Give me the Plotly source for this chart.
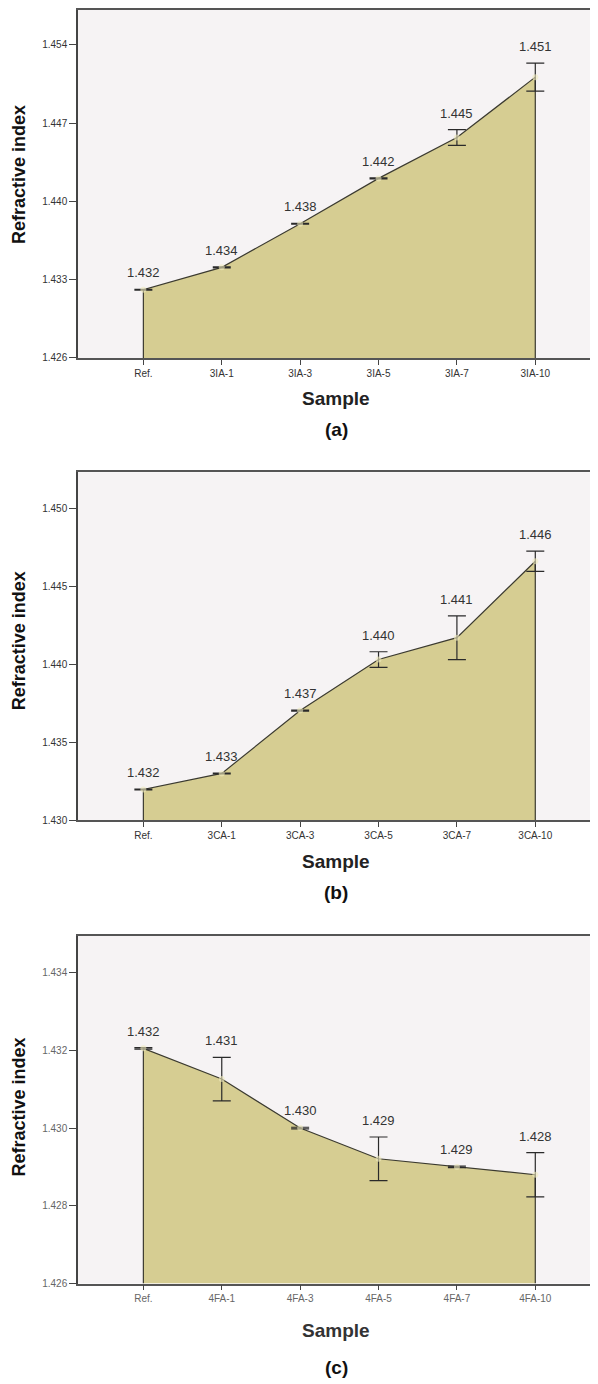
import plotly.graph_objects as go

# ---------------- data ----------------
samples_a = ["Ref.", "3IA-1", "3IA-3", "3IA-5", "3IA-7", "3IA-10"]
mean_a = [1.4321, 1.4341, 1.4380, 1.44205, 1.4457, 1.4511]
err_a = [0.00004, 0.00004, 0.00004, 0.00004, 0.0007, 0.00125]
label_a = ["1.432", "1.434", "1.438", "1.442", "1.445", "1.451"]
yticks_a = [1.426, 1.433, 1.440, 1.447, 1.454]
yrange_a = [1.426, 1.4571]

samples_b = ["Ref.", "3CA-1", "3CA-3", "3CA-5", "3CA-7", "3CA-10"]
mean_b = [1.43197, 1.4330, 1.43703, 1.4403, 1.4417, 1.4466]
err_b = [0.00003, 0.00003, 0.00003, 0.0005, 0.0014, 0.00065]
label_b = ["1.432", "1.433", "1.437", "1.440", "1.441", "1.446"]
yticks_b = [1.430, 1.435, 1.440, 1.445, 1.450]
yrange_b = [1.430, 1.4523]

samples_c = ["Ref.", "4FA-1", "4FA-3", "4FA-5", "4FA-7", "4FA-10"]
mean_c = [1.43205, 1.43126, 1.4300, 1.42921, 1.4290, 1.4288]
err_c = [0.00002, 0.00056, 0.00002, 0.00056, 0.00002, 0.00057]
label_c = ["1.432", "1.431", "1.430", "1.429", "1.429", "1.428"]
yticks_c = [1.426, 1.428, 1.430, 1.432, 1.434]
yrange_c = [1.426, 1.43495]

panels = [
    (samples_a, mean_a, err_a, label_a, yticks_a, yrange_a, "(a)"),
    (samples_b, mean_b, err_b, label_b, yticks_b, yrange_b, "(b)"),
    (samples_c, mean_c, err_c, label_c, yticks_c, yrange_c, "(c)"),
]

# ---------------- layout geometry ----------------
# the page body has an 8 px margin, so the figure is offset by (8, 8)
OFF = 8
W, H = 598 - OFF, 1384 - OFF


def fx(px):
    return (px - OFF) / W


def fy(py):
    return min(1.0, max(0.0, 1 - (py - OFF) / H))


# page-pixel boxes (top, bottom) of plot areas
boxes = [(8, 358), (473, 823), (939, 1289)]
x_left_px = 78
xrange_ = [-0.834, 5.80]

FILL = "#d6cd92"
LINE = "#3b3a30"
BG = "#f6f3f4"
TXT = "#333333"
FONT = "Arial, Liberation Sans, sans-serif"

fig = go.Figure()
annotations = []
layout_axes = {}

for i, (cats, mean, err, labels, yt, yr, tag) in enumerate(panels):
    n = i + 1
    xa = "x" if n == 1 else f"x{n}"
    ya = "y" if n == 1 else f"y{n}"
    idx = list(range(len(cats)))

    # filled area polygon (down to axis minimum) with outline
    px = [idx[0]] + idx + [idx[-1]]
    py = [yr[0]] + mean + [yr[0]]
    fig.add_trace(go.Scatter(
        x=px, y=py, mode="lines", fill="toself", fillcolor=FILL,
        line=dict(color=LINE, width=1.2), xaxis=xa, yaxis=ya,
        hoverinfo="skip", showlegend=False))

    # error bars
    fig.add_trace(go.Scatter(
        x=idx, y=mean, mode="markers",
        marker=dict(size=6, color="rgba(240,235,190,0.6)"),
        error_y=dict(type="data", array=err, visible=True,
                     color="#2a2a2a", thickness=1.2, width=9),
        xaxis=xa, yaxis=ya, hoverinfo="skip", showlegend=False))

    # value labels
    for k in idx:
        annotations.append(dict(
            x=k, y=mean[k] + err[k], xref=xa, yref=ya,
            text=labels[k], showarrow=False, yanchor="bottom",
            yshift=7, font=dict(family=FONT, size=13, color=TXT)))

    top, bot = boxes[i]
    xkey = "xaxis" if n == 1 else f"xaxis{n}"
    ykey = "yaxis" if n == 1 else f"yaxis{n}"
    tickcol = "#666666" if n == 3 else TXT
    layout_axes[xkey] = dict(
        domain=[fx(x_left_px), 1.0], range=xrange_, anchor=ya,
        tickmode="array", tickvals=idx, ticktext=cats,
        ticks="outside", ticklen=5, tickcolor="#444",
        tickfont=dict(family=FONT, size=10, color=tickcol),
        showline=True, linecolor="#555", linewidth=1.5, mirror=True,
        showgrid=False, zeroline=False, fixedrange=True)
    layout_axes[ykey] = dict(
        domain=[fy(bot), fy(top)], range=yr, anchor=xa,
        tickmode="array", tickvals=yt, ticktext=[f"{v:.3f}" for v in yt],
        ticks="outside", ticklen=7, tickcolor="#444",
        tickfont=dict(family=FONT, size=10, color=tickcol),
        showline=True, linecolor="#444", linewidth=1.5,
        showgrid=False, zeroline=False, fixedrange=True)

# axis titles and panel tags (page pixel positions)
ytitle_centers = [174, 643, 1112]
sample_y = [399, 864, 1336]
tag_y = [430, 896, 1373]
for i in range(3):
    annotations.append(dict(
        x=0, y=fy(ytitle_centers[i]), xref="paper", yref="paper",
        text="<b>Refractive index</b>", textangle=-90, showarrow=False,
        xanchor="left", yanchor="middle", borderpad=0,
        font=dict(family=FONT, size=18, color="#111")))
    annotations.append(dict(
        x=fx(336), y=fy(sample_y[i]), xref="paper", yref="paper",
        text="<b>Sample</b>", showarrow=False, xanchor="center", yanchor="middle",
        font=dict(family=FONT, size=19, color="#222" if i < 2 else "#333")))
    annotations.append(dict(
        x=fx(336), y=fy(tag_y[i]), xref="paper", yref="paper",
        text=f"<b>{panels[i][6]}</b>", showarrow=False, xanchor="center",
        yanchor="middle", font=dict(family=FONT, size=19, color="#111")))

fig.update_layout(
    width=W, height=H, margin=dict(l=0, r=0, t=0, b=0),
    paper_bgcolor="white", plot_bgcolor=BG,
    annotations=annotations, showlegend=False, **layout_axes)

fig.write_html("out.html")
